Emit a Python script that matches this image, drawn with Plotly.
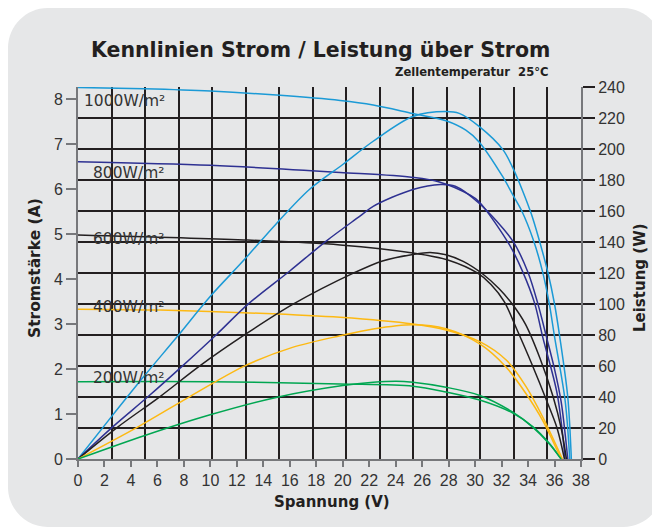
import plotly.graph_objects as go

# ---------------- data ----------------
title_text = "Kennlinien Strom / Leistung über Strom"
subtitle_text = "Zellentemperatur\u00a0 25°C"
x_title = "Spannung (V)"
y_title = "Stromstärke (A)"
y2_title = "Leistung (W)"

irradiance_labels = ["1000W/m²", "800W/m²", "600W/m²", "400W/m²", "200W/m²"]

# current curves (left axis)
v_i_1000 = [0, 5, 10, 15, 19.8, 22.3, 25.3, 27.8, 29.3, 30.3, 32.1, 32.85, 33.5, 34.4, 35.1, 35.6, 36.0, 36.8, 37.15]
i_1000 = [8.26, 8.23, 8.18, 8.09, 7.97, 7.87, 7.68, 7.52, 7.31, 7.05, 6.27, 5.87, 5.53, 4.87, 4.16, 3.46, 2.72, 1.3, 0]

v_i_800 = [0, 10, 19.8, 25.3, 27.3, 29.6, 30.3, 32.6, 33.6, 34.5, 35.1, 36.2, 36.8]
i_800 = [6.61, 6.53, 6.37, 6.26, 6.16, 5.87, 5.72, 4.76, 4.16, 3.46, 2.72, 1.45, 0]

v_i_600 = [0, 12.5, 19.8, 25.3, 28.0, 30.2, 31.2, 32.2, 33.2, 34.3, 35.4, 36.2, 36.75]
i_600 = [4.98, 4.87, 4.76, 4.58, 4.42, 4.13, 3.88, 3.5, 2.85, 2.1, 1.3, 0.68, 0]

v_i_400 = [0, 6.2, 13.7, 19.8, 25.3, 27.8, 30.35, 32.35, 33.85, 35.1, 36.6]
i_400 = [3.33, 3.31, 3.24, 3.15, 3.0, 2.87, 2.61, 2.2, 1.61, 0.94, 0]

v_i_200 = [0, 10, 19.8, 25.3, 27.8, 30.35, 32.85, 34.35, 35.6, 36.5]
i_200 = [1.72, 1.72, 1.67, 1.62, 1.49, 1.31, 1.02, 0.72, 0.35, 0]

# power curves (right axis)
v_p_1000 = [0, 2.5, 5, 7.5, 10, 12.5, 15, 17.5, 20, 22.3, 25.3, 27.8, 28.8, 30.3, 32.1, 32.85, 33.6, 34.25, 34.75, 35.5, 36.0, 36.4, 37.0, 37.27]
p_1000 = [0, 27, 53.5, 79, 105, 128, 152, 174, 190, 205, 221, 224.2, 223, 214.6, 199.6, 187.8, 172.8, 158, 144, 120.3, 100, 78.5, 40, 0]

v_p_800 = [0, 2.6, 5.3, 7.9, 10.45, 12.85, 16, 18.75, 21.3, 22.3, 25.3, 27.4, 28.5, 30.3, 32.85, 34.0, 34.75, 35.4, 36.0, 36.5, 37.0]
p_800 = [0, 20.6, 40.3, 60.1, 80.2, 99.9, 121.3, 140.6, 156.7, 163, 173.9, 177.1, 176, 165, 140.6, 120.3, 99.9, 78.5, 58, 37, 0]

v_p_600 = [0, 3.0, 6.2, 9.2, 12.6, 16.25, 20.8, 23.0, 25.3, 26.6, 27.8, 29.1, 30.6, 31.8, 32.85, 33.8, 34.9, 35.9, 36.5, 36.9]
p_600 = [0, 20.6, 40.3, 60.1, 80.2, 99.9, 119.9, 127.8, 132, 133.3, 131.8, 127.5, 119.2, 110, 99.5, 87, 65, 40, 20, 0]

v_p_400 = [0, 4.5, 8.45, 12.6, 16.2, 19.8, 22.3, 25.3, 27.8, 30.35, 32.35, 33.85, 35.1, 36.5]
p_400 = [0, 20.6, 40.3, 60.1, 72, 79.5, 83.9, 86.6, 84, 74.2, 59.2, 42.1, 24.9, 0]

v_p_200 = [0, 5.05, 10.05, 15.05, 20, 22.3, 24.05, 25.3, 27.8, 30.35, 32.85, 34.35, 35.6, 36.5]
p_200 = [0, 15.2, 28.7, 39.9, 47.4, 49.5, 50.2, 49.5, 46.3, 41, 30.2, 20.6, 9.9, 0]

x_range = [0, 38]
x_grid_divisions = 15
y_range = [0, 8.27]
y2_range = [0, 240]

# ---------------- styling ----------------
W, H = 652, 519          # page has an 8px body margin
OFF = 8
ML, MR, MT, MB = 70, 79, 79, 68
PW, PH = W - ML - MR, H - MT - MB

colors = ["#1b9ad6", "#2e3192", "#231f20", "#fdb913", "#00a651"]
grid_col = "#231f20"
axis_col = "#77787b"
card_col = "#e6e7e8"
text_col = "#231f20"


def xp(page_x):
    return (page_x - OFF - ML) / PW


def yp(page_y):
    return (H - MB - (page_y - OFF)) / PH


fig = go.Figure()

i_sets = [(v_i_1000, i_1000), (v_i_800, i_800), (v_i_600, i_600), (v_i_400, i_400), (v_i_200, i_200)]
p_sets = [(v_p_1000, p_1000), (v_p_800, p_800), (v_p_600, p_600), (v_p_400, p_400), (v_p_200, p_200)]

for k, ((vi, ii), (vp, pp)) in enumerate(zip(i_sets, p_sets)):
    fig.add_trace(go.Scatter(x=vi, y=ii, mode="lines", yaxis="y",
                             line=dict(color=colors[k], width=1.5, shape="spline", smoothing=0.9),
                             name=irradiance_labels[k] + " I", showlegend=False, hoverinfo="skip"))
    fig.add_trace(go.Scatter(x=vp, y=pp, mode="lines", yaxis="y2",
                             line=dict(color=colors[k], width=1.5, shape="spline", smoothing=0.9),
                             name=irradiance_labels[k] + " P", showlegend=False, hoverinfo="skip"))

# rounded card background (page pixel geometry converted to paper coords)
cx0, cy0, cx1, cy1, r = 8, 8, 663, 527, 40
kappa = 0.5523 * r


def P(x, y):
    return f"{xp(x):.5f},{yp(y):.5f}"


path = (
    f"M {P(cx0 + r, cy0)} L {P(cx1 - r, cy0)} "
    f"C {P(cx1 - r + kappa, cy0)} {P(cx1, cy0 + r - kappa)} {P(cx1, cy0 + r)} "
    f"L {P(cx1, cy1 - r)} "
    f"C {P(cx1, cy1 - r + kappa)} {P(cx1 - r + kappa, cy1)} {P(cx1 - r, cy1)} "
    f"L {P(cx0 + r, cy1)} "
    f"C {P(cx0 + r - kappa, cy1)} {P(cx0, cy1 - r + kappa)} {P(cx0, cy1 - r)} "
    f"L {P(cx0, cy0 + r)} "
    f"C {P(cx0, cy0 + r - kappa)} {P(cx0 + r - kappa, cy0)} {P(cx0 + r, cy0)} Z"
)

fig.add_shape(type="path", path=path, xref="paper", yref="paper",
              fillcolor=card_col, line=dict(width=0), layer="below")

tick_font = dict(family="Liberation Sans, Arial, sans-serif", size=16, color="#333333")
bold_font = "DejaVu Sans, sans-serif"

fig.update_layout(
    width=W, height=H,
    margin=dict(l=ML, r=MR, t=MT, b=MB, autoexpand=False),
    paper_bgcolor="white",
    plot_bgcolor="rgba(0,0,0,0)",
    showlegend=False,
    xaxis=dict(
        range=x_range, tickmode="linear", tick0=0, dtick=2, automargin=False,
        ticks="outside", ticklen=6, tickwidth=1.5, tickcolor=axis_col,
        showgrid=False, zeroline=False,
        showline=True, linecolor=axis_col, linewidth=2,
        tickfont=tick_font,
        minor=dict(tickmode="linear", tick0=0, dtick=(x_range[1] - x_range[0]) / x_grid_divisions,
                   showgrid=True, gridcolor=grid_col, gridwidth=1.5, ticks=""),
    ),
    yaxis=dict(
        range=y_range, tickmode="linear", tick0=0, dtick=1, automargin=False,
        ticks="outside", ticklen=10, tickwidth=1.5, tickcolor=axis_col,
        showgrid=False, zeroline=False,
        showline=True, linecolor=axis_col, linewidth=2,
        tickfont=tick_font,
    ),
    yaxis2=dict(
        range=y2_range, overlaying="y", side="right", tickmode="linear", tick0=0, dtick=20,
        automargin=False,
        ticks="outside", ticklen=12, tickwidth=1.5, tickcolor=grid_col,
        showgrid=True, gridcolor=grid_col, gridwidth=1.5, zeroline=False,
        showline=True, linecolor=axis_col, linewidth=2,
        tickfont=tick_font,
    ),
)

annotations = [
    dict(text=title_text, x=xp(320.5), y=yp(50), xref="paper", yref="paper",
         xanchor="center", yanchor="middle", showarrow=False,
         font=dict(family=bold_font, size=20.5, color=text_col, weight="bold")),
    dict(text=subtitle_text, x=xp(551), y=yp(72), xref="paper", yref="paper",
         xanchor="right", yanchor="middle", showarrow=False,
         font=dict(family=bold_font, size=11.6, color=text_col, weight="bold")),
    dict(text=x_title, x=xp(332), y=yp(502), xref="paper", yref="paper",
         xanchor="center", yanchor="middle", showarrow=False,
         font=dict(family=bold_font, size=15, color=text_col, weight="bold")),
    dict(text=y_title, x=xp(35), y=yp(268), xref="paper", yref="paper", textangle=-90,
         xanchor="center", yanchor="middle", showarrow=False,
         font=dict(family=bold_font, size=15.5, color=text_col, weight="bold")),
    dict(text=y2_title, x=xp(640), y=yp(278), xref="paper", yref="paper", textangle=-90,
         xanchor="center", yanchor="middle", showarrow=False,
         font=dict(family=bold_font, size=15, color=text_col, weight="bold")),
]

label_pos_px = [(82, 101.3), (90.7, 172.5), (90.7, 239.3), (90.7, 306.7), (90.7, 378.3)]
for lab, (lx, ly) in zip(irradiance_labels, label_pos_px):
    annotations.append(dict(text=lab, x=xp(lx), y=yp(ly), xref="paper", yref="paper",
                            xanchor="left", yanchor="middle", showarrow=False,
                            font=dict(family="DejaVu Sans, sans-serif", size=15.5, color="#333333")))

fig.update_layout(annotations=annotations)

fig.write_html("out.html")
